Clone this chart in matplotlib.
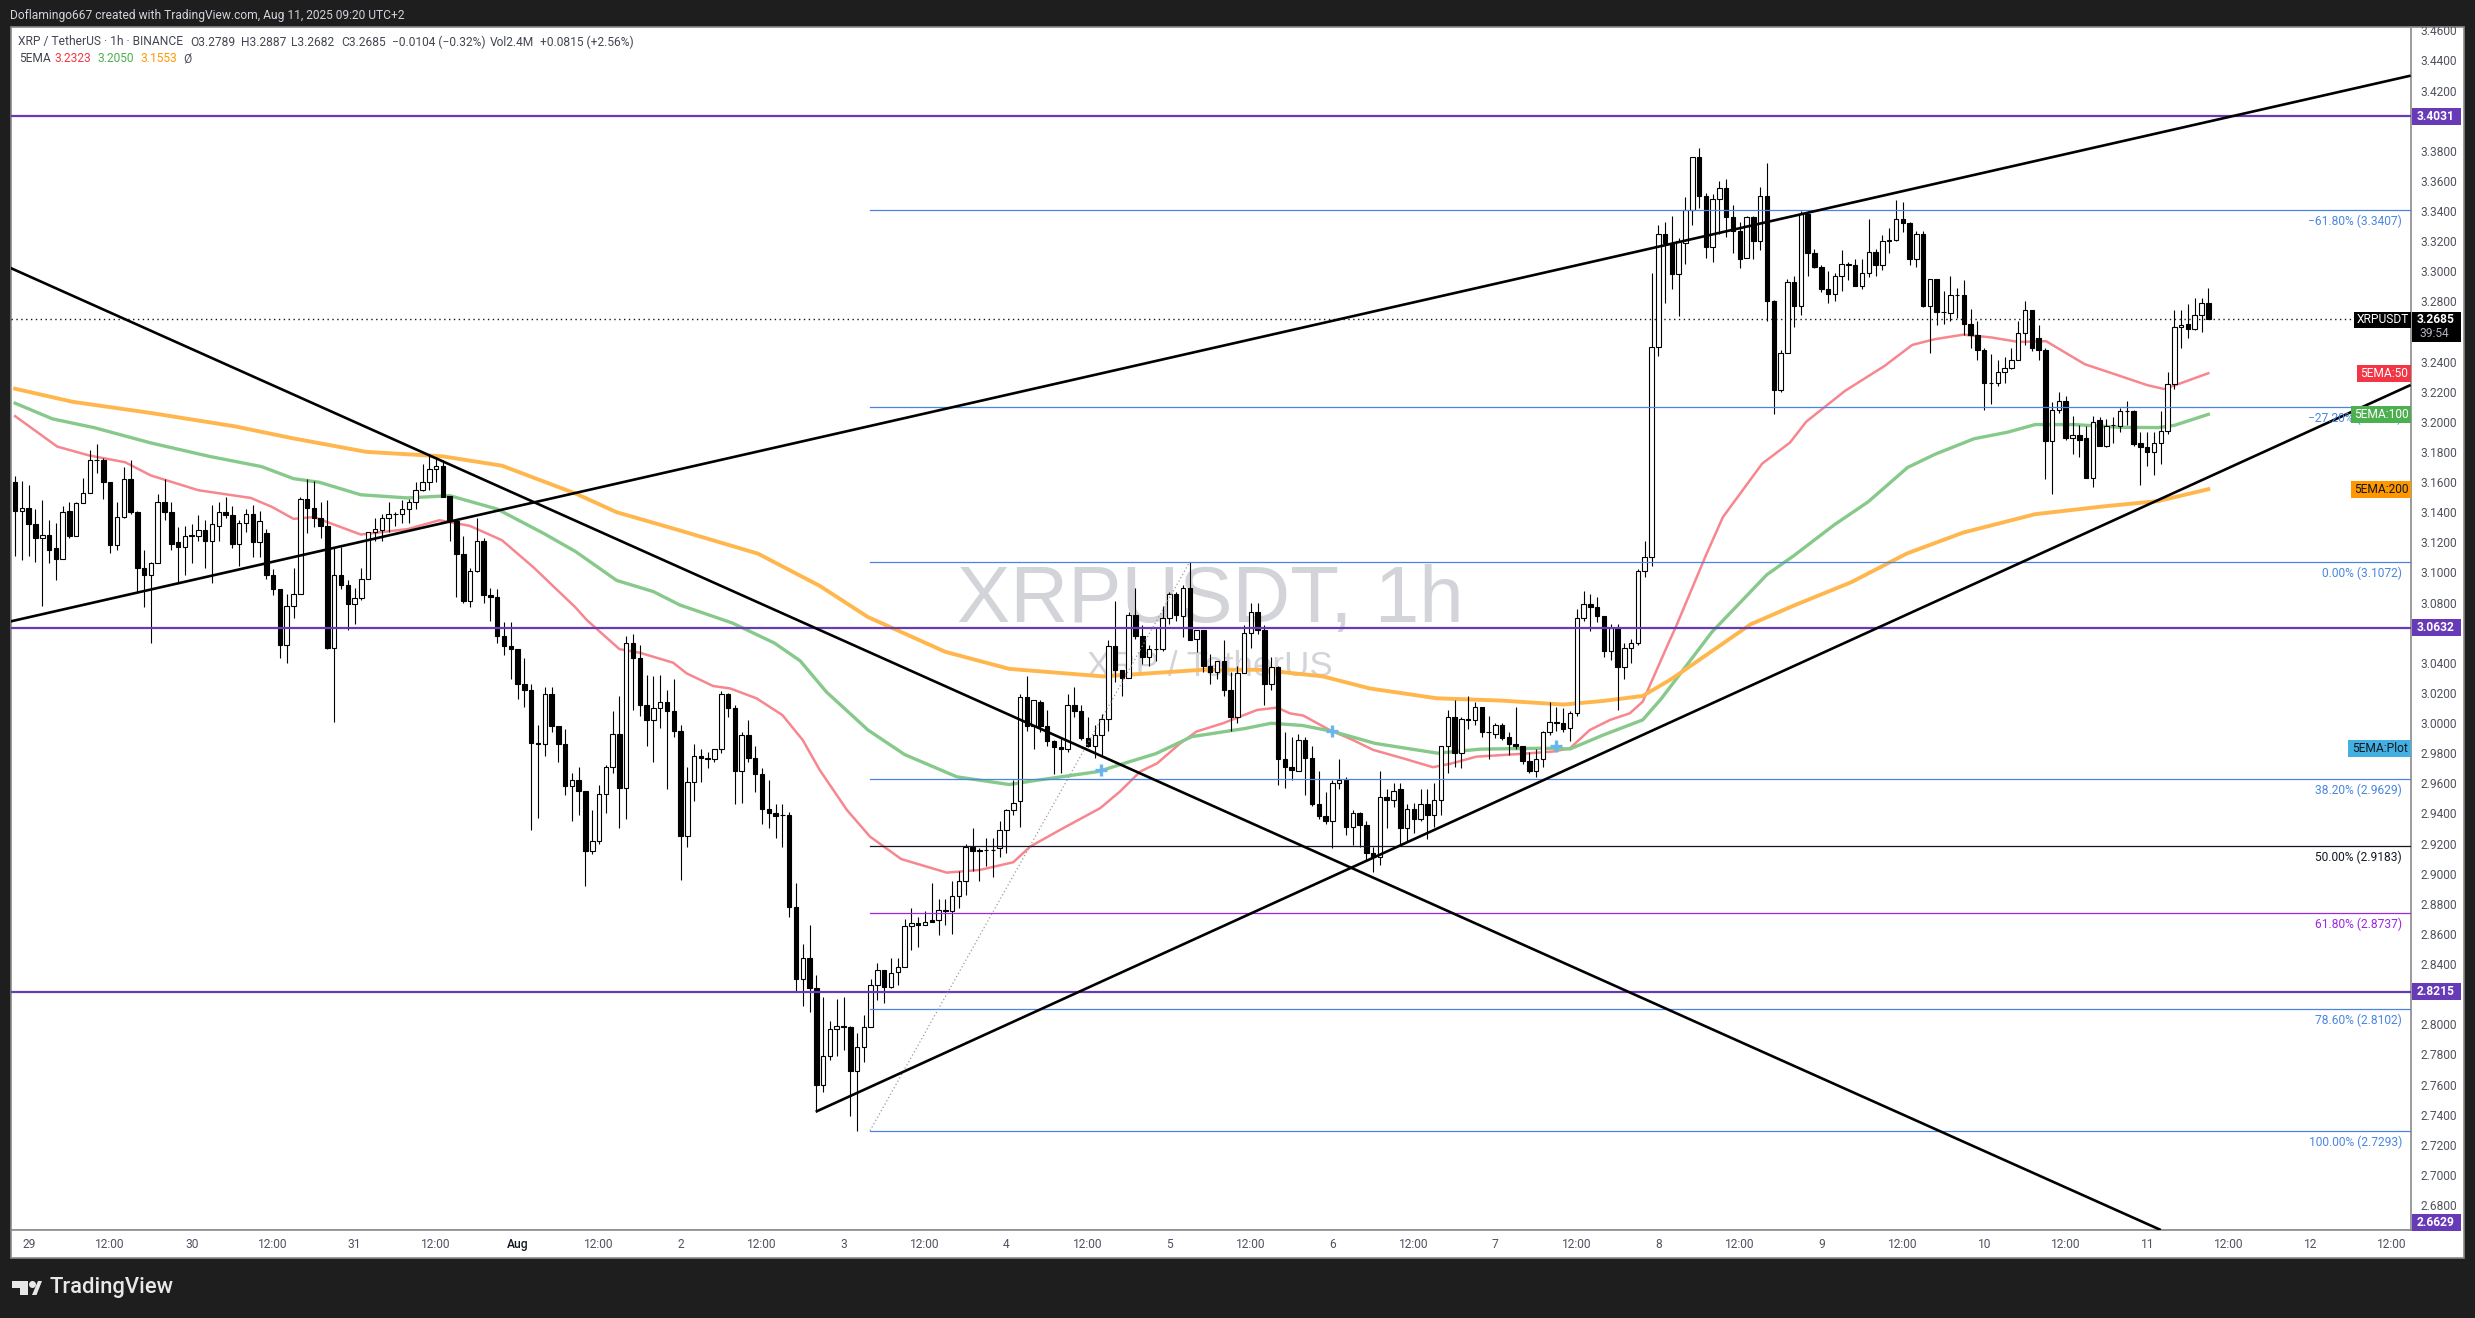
import numpy as np
import matplotlib
matplotlib.use('Agg')
import matplotlib.pyplot as plt
from matplotlib.patches import Rectangle, Circle, Polygon
from matplotlib.transforms import IdentityTransform, Bbox

W, H = 2475, 1318
UI_FONT = 'Roboto'
plt.rcParams['font.family'] = [UI_FONT, 'DejaVu Sans']

# hours counted from Jul 29 00:00
hours = list(range(-2, 322))

opens = [
    3.160,3.141,3.143,3.132,3.123,3.125,3.116,3.109,3.141,3.124,3.146,3.153,3.175,3.175,3.160,3.118,3.137,3.162,3.140,3.103,3.098,3.106,3.147,3.140,
    3.120,3.117,3.124,3.124,3.128,3.121,3.131,3.140,3.138,3.119,3.133,3.139,3.120,3.126,3.098,3.089,3.052,3.078,3.086,3.149,3.143,3.136,3.131,3.050,
    3.098,3.092,3.079,3.083,3.096,3.127,3.128,3.136,3.139,3.139,3.142,3.147,3.155,3.160,3.169,3.171,3.151,3.134,3.112,3.081,3.101,3.121,3.085,3.084,
    3.058,3.051,3.049,3.026,3.022,2.987,2.986,3.019,2.998,2.986,2.958,2.962,2.955,2.915,2.922,2.953,2.971,2.993,2.957,3.053,3.043,3.012,3.002,3.010,
    3.014,3.008,2.995,2.925,2.961,2.978,2.977,2.976,2.983,3.019,3.010,2.968,2.992,2.977,2.966,2.943,2.940,2.939,2.939,2.878,2.830,2.844,2.824,2.760,
    2.779,2.797,2.799,2.798,2.769,2.785,2.798,2.826,2.836,2.825,2.835,2.838,2.865,2.867,2.866,2.869,2.869,2.876,2.875,2.885,2.895,2.918,2.916,2.916,
    2.916,2.917,2.929,2.942,2.948,3.017,2.998,3.014,2.998,2.988,2.984,2.983,3.012,3.008,2.990,2.985,2.992,3.003,3.051,3.035,3.030,3.072,3.058,3.044,
    3.049,3.049,3.070,3.086,3.071,3.090,3.056,3.062,3.038,3.034,3.041,3.022,3.004,3.033,3.060,3.074,3.062,3.026,3.037,2.976,2.971,2.968,2.989,2.977,
    2.946,2.938,2.935,2.960,2.962,2.931,2.940,2.932,2.914,2.911,2.951,2.949,2.956,2.930,2.943,2.936,2.946,2.939,2.949,2.985,3.004,2.980,3.003,3.002,
    3.011,2.994,2.993,2.999,2.991,2.986,2.985,2.975,2.968,2.976,2.994,3.001,3.000,2.997,3.007,3.070,3.079,3.077,3.071,3.048,3.063,3.037,3.050,3.053,
    3.101,3.110,3.250,3.325,3.319,3.298,3.319,3.341,3.376,3.350,3.316,3.348,3.355,3.336,3.327,3.309,3.336,3.320,3.350,3.280,3.221,3.246,3.293,3.277,
    3.338,3.312,3.303,3.288,3.285,3.297,3.305,3.304,3.290,3.299,3.313,3.304,3.320,3.321,3.335,3.332,3.308,3.325,3.277,3.295,3.273,3.272,3.284,3.284,
    3.265,3.258,3.248,3.226,3.226,3.233,3.236,3.241,3.259,3.274,3.256,3.248,3.187,3.208,3.214,3.189,3.191,3.189,3.163,3.201,3.184,3.198,3.197,3.207,
    3.207,3.186,3.183,3.180,3.186,3.194,3.225,3.263,3.265,3.262,3.271,3.2789]
highs = [
    3.164,3.161,3.158,3.142,3.148,3.135,3.133,3.144,3.147,3.147,3.163,3.181,3.185,3.176,3.160,3.147,3.170,3.175,3.141,3.115,3.107,3.152,3.162,3.147,
    3.130,3.131,3.132,3.138,3.135,3.145,3.147,3.150,3.144,3.135,3.142,3.145,3.141,3.129,3.102,3.089,3.086,3.103,3.150,3.162,3.161,3.147,3.148,3.117,
    3.117,3.095,3.090,3.103,3.127,3.136,3.139,3.147,3.140,3.148,3.149,3.160,3.172,3.178,3.177,3.175,3.151,3.135,3.124,3.103,3.136,3.123,3.090,3.089,
    3.067,3.067,3.049,3.043,3.026,2.999,3.024,3.024,2.998,2.996,2.967,2.971,2.955,2.942,2.959,2.972,3.008,3.018,3.058,3.059,3.052,3.032,3.031,3.032,
    3.022,3.029,2.999,2.971,2.986,2.983,2.981,2.983,3.021,3.020,3.012,2.994,3.002,2.985,2.970,2.962,2.946,2.946,2.941,2.894,2.853,2.866,2.833,2.818,
    2.802,2.817,2.818,2.799,2.794,2.806,2.830,2.841,2.836,2.844,2.844,2.870,2.877,2.871,2.875,2.894,2.883,2.883,2.895,2.902,2.920,2.930,2.917,2.924,
    2.924,2.935,2.943,2.962,3.019,3.031,3.015,3.015,3.009,2.989,2.991,3.019,3.024,3.012,3.004,2.999,3.006,3.055,3.081,3.035,3.074,3.090,3.065,3.052,
    3.063,3.078,3.087,3.087,3.092,3.1072,3.062,3.062,3.046,3.041,3.055,3.034,3.038,3.065,3.080,3.080,3.065,3.044,3.038,2.994,2.991,2.993,2.991,2.985,
    2.968,2.954,2.962,2.976,2.964,2.942,2.941,2.935,2.918,2.968,2.956,2.960,2.960,2.946,2.947,2.956,2.956,2.960,2.985,3.009,3.015,3.004,3.018,3.014,
    3.011,3.005,3.000,3.000,2.994,3.011,2.985,2.981,2.983,2.995,3.014,3.011,3.010,3.008,3.076,3.088,3.086,3.084,3.071,3.066,3.066,3.053,3.056,3.102,
    3.121,3.299,3.331,3.333,3.337,3.322,3.349,3.376,3.382,3.352,3.351,3.360,3.361,3.344,3.333,3.337,3.337,3.356,3.372,3.281,3.248,3.295,3.297,3.340,
    3.340,3.315,3.304,3.300,3.299,3.314,3.306,3.308,3.308,3.335,3.315,3.324,3.329,3.347,3.346,3.333,3.327,3.327,3.295,3.295,3.287,3.297,3.289,3.294,
    3.275,3.267,3.249,3.245,3.241,3.243,3.249,3.267,3.280,3.274,3.264,3.249,3.213,3.220,3.217,3.204,3.198,3.197,3.204,3.203,3.202,3.203,3.209,3.214,
    3.208,3.193,3.193,3.193,3.207,3.233,3.274,3.274,3.278,3.282,3.282,3.2887]
lows = [
    3.111,3.108,3.111,3.107,3.078,3.106,3.095,3.109,3.123,3.124,3.146,3.153,3.166,3.149,3.113,3.115,3.136,3.139,3.087,3.077,3.053,3.106,3.135,3.115,
    3.093,3.098,3.106,3.121,3.103,3.093,3.121,3.136,3.116,3.104,3.127,3.110,3.110,3.096,3.085,3.043,3.040,3.070,3.086,3.126,3.130,3.123,3.049,3.001,
    3.089,3.062,3.066,3.082,3.096,3.121,3.121,3.127,3.131,3.133,3.133,3.142,3.154,3.155,3.160,3.150,3.121,3.084,3.080,3.077,3.100,3.080,3.068,3.053,
    3.045,3.029,3.016,3.011,2.929,2.937,2.978,2.994,2.974,2.952,2.935,2.939,2.892,2.913,2.920,2.940,2.967,2.930,2.936,3.009,3.005,2.985,2.974,2.997,
    2.956,2.991,2.896,2.918,2.948,2.961,2.970,2.974,2.980,3.004,2.946,2.947,2.974,2.954,2.933,2.930,2.924,2.918,2.871,2.822,2.812,2.808,2.742,2.755,
    2.776,2.779,2.783,2.739,2.7293,2.775,2.798,2.816,2.814,2.824,2.826,2.838,2.849,2.851,2.866,2.868,2.859,2.866,2.860,2.877,2.886,2.902,2.895,2.905,
    2.898,2.911,2.914,2.939,2.931,2.995,2.983,2.994,2.985,2.966,2.967,2.981,3.004,2.989,2.984,2.977,2.979,2.995,3.027,3.018,3.030,3.056,3.039,3.038,
    3.041,3.048,3.066,3.068,3.057,3.055,3.047,3.034,3.026,3.029,3.018,2.995,3.000,3.033,3.050,3.059,3.012,3.022,2.959,2.957,2.962,2.968,2.952,2.945,
    2.936,2.933,2.917,2.956,2.926,2.919,2.918,2.909,2.901,2.906,2.930,2.944,2.919,2.921,2.927,2.935,2.923,2.931,2.939,2.967,2.971,2.970,2.996,2.999,
    2.991,2.976,2.990,2.989,2.979,2.983,2.973,2.967,2.964,2.971,2.992,2.995,2.994,2.988,3.005,3.068,3.061,3.067,3.044,3.042,3.009,3.029,3.040,3.052,
    3.097,3.104,3.244,3.279,3.288,3.270,3.305,3.331,3.342,3.309,3.306,3.325,3.323,3.312,3.302,3.309,3.308,3.314,3.267,3.205,3.220,3.246,3.263,3.271,
    3.297,3.302,3.286,3.279,3.280,3.287,3.294,3.290,3.288,3.296,3.297,3.301,3.312,3.320,3.326,3.304,3.303,3.276,3.246,3.264,3.265,3.267,3.269,3.258,
    3.249,3.241,3.208,3.212,3.224,3.226,3.235,3.241,3.251,3.247,3.241,3.162,3.152,3.206,3.188,3.179,3.177,3.163,3.157,3.184,3.183,3.186,3.193,3.198,
    3.184,3.158,3.171,3.165,3.172,3.192,3.222,3.249,3.256,3.261,3.260,3.2682]
closes = [
    3.141,3.143,3.132,3.123,3.125,3.115,3.109,3.140,3.124,3.146,3.153,3.175,3.175,3.160,3.118,3.137,3.162,3.140,3.103,3.098,3.106,3.147,3.140,3.119,
    3.117,3.124,3.125,3.128,3.121,3.132,3.140,3.138,3.119,3.133,3.139,3.120,3.134,3.098,3.089,3.052,3.078,3.086,3.149,3.143,3.136,3.131,3.050,3.098,
    3.092,3.079,3.083,3.096,3.127,3.129,3.136,3.139,3.139,3.142,3.147,3.155,3.160,3.169,3.171,3.150,3.134,3.112,3.081,3.101,3.121,3.085,3.084,3.058,
    3.051,3.049,3.026,3.022,2.987,2.986,3.019,2.998,2.986,2.958,2.962,2.955,2.915,2.922,2.953,2.971,2.993,2.957,3.053,3.043,3.012,3.002,3.010,3.014,
    3.008,2.995,2.925,2.961,2.978,2.977,2.976,2.983,3.019,3.010,2.968,2.992,2.977,2.966,2.943,2.940,2.938,2.939,2.878,2.830,2.844,2.824,2.760,2.779,
    2.797,2.799,2.798,2.769,2.785,2.798,2.826,2.836,2.825,2.834,2.838,2.865,2.867,2.866,2.868,2.868,2.876,2.875,2.885,2.895,2.918,2.915,2.915,2.916,
    2.916,2.929,2.942,2.947,3.017,2.998,3.015,2.998,2.988,2.984,2.983,3.012,3.008,2.990,2.985,2.992,3.003,3.051,3.035,3.030,3.072,3.058,3.044,3.049,
    3.049,3.070,3.086,3.072,3.090,3.055,3.062,3.038,3.034,3.041,3.022,3.004,3.033,3.060,3.074,3.062,3.026,3.037,2.976,2.971,2.969,2.989,2.977,2.946,
    2.938,2.935,2.960,2.962,2.931,2.940,2.932,2.914,2.911,2.951,2.949,2.955,2.930,2.943,2.936,2.946,2.939,2.949,2.985,3.004,2.980,3.003,3.002,3.011,
    2.994,2.994,2.999,2.990,2.986,2.985,2.975,2.968,2.976,2.994,3.001,3.000,2.996,3.007,3.070,3.079,3.077,3.071,3.048,3.063,3.037,3.050,3.053,3.101,
    3.110,3.250,3.325,3.319,3.298,3.320,3.341,3.376,3.350,3.316,3.348,3.355,3.336,3.327,3.308,3.336,3.320,3.350,3.280,3.221,3.246,3.293,3.277,3.338,
    3.312,3.303,3.288,3.285,3.297,3.305,3.304,3.290,3.299,3.313,3.304,3.320,3.321,3.335,3.332,3.308,3.325,3.277,3.295,3.273,3.273,3.284,3.284,3.265,
    3.258,3.248,3.226,3.226,3.233,3.236,3.241,3.259,3.274,3.249,3.248,3.187,3.208,3.214,3.189,3.191,3.188,3.163,3.200,3.184,3.197,3.198,3.207,3.207,
    3.185,3.183,3.180,3.186,3.194,3.225,3.263,3.264,3.262,3.271,3.279,3.2685]

# moving averages at selected hours
ema50_h = [-2,4.2,8.9,14.2,18,25,32.7,35.8,39,42,48.9,55.8,60.5,65,69.7,74.3,80.5,82.2,87,90,94.9,96.9,100.8,103.3,107.2,111,114,116.5,120.5,123.9,128.5,135.2,140.1,145,147.5,151.9,154.8,157.8,160.7,163.7,166.2,169.6,172,175.9,180.9,183.9,185.7,187.7,191.6,195,198,202.4,206.8,209.3,213.2,219.6,224.5,227,229.9,232.9,235.8,237.7,241.7,242.5,247,249.5,255.3,259.4,261.8,267.5,273.3,277.4,280.7,284.9,289,293,297.1,302.8,307,312,314.5,316.9,321]
ema50 = [3.2038,3.1836,3.1777,3.1732,3.1644,3.1546,3.1495,3.1436,3.1356,3.1368,3.1252,3.1288,3.1347,3.1309,3.1214,3.1036,3.0769,3.0684,3.0491,3.0467,3.0401,3.0330,3.0246,3.0230,3.0164,3.0053,2.9887,2.9688,2.9423,2.9246,2.9097,2.9007,2.9025,2.9076,2.9180,2.9291,2.9362,2.9435,2.9545,2.9678,2.9733,2.9866,2.9944,2.9999,3.0087,3.0103,3.0065,3.0050,2.9954,2.9888,2.9822,2.9766,2.9707,2.9729,2.9777,2.9795,2.9811,2.9833,2.9954,3.0021,3.0065,3.0142,3.0552,3.0630,3.1113,3.1367,3.1723,3.1863,3.2002,3.2206,3.2371,3.2511,3.2549,3.2579,3.2561,3.2531,3.2536,3.2383,3.2320,3.2244,3.2218,3.2256,3.2323]
ema100_h = [-2,3.5,9.7,18,26.6,34.3,39,42.8,48.9,55.8,62,69,75.9,80.5,86.6,92,95.9,103.6,109.8,113.6,117.5,123.6,129,136.7,144.4,148.3,157.5,161.3,166,171.3,179,183,187.6,192,198.3,207.5,213.8,223,227,231.9,237.7,240.4,247.9,256,260,265.9,270.9,276.7,280.8,286.5,291.4,295.5,301.3,307.9,313.6,316,321]
ema100 = [3.2124,3.2020,3.1961,3.1860,3.1771,3.1703,3.1623,3.1599,3.1516,3.1495,3.1510,3.1421,3.1258,3.1140,3.0947,3.0873,3.0784,3.0665,3.0532,3.0414,3.0206,2.9954,2.9791,2.9643,2.9592,2.9619,2.9678,2.9732,2.9797,2.9910,2.9963,2.9999,2.9984,2.9945,2.9865,2.9800,2.9827,2.9833,2.9828,2.9921,3.0021,3.0160,3.0605,3.0986,3.1113,3.1316,3.1469,3.1697,3.1786,3.1888,3.1931,3.1982,3.1982,3.1964,3.1962,3.1977,3.2050]
ema200_h = [-2,6.5,18,30.4,39,49.7,61,69.7,80.5,86.6,95.9,107.4,116.5,123.6,135,144.4,158.2,172.9,181.4,190.6,197.5,207.3,217,226,231.9,237.7,241.7,243.8,253.6,260.1,268.4,276.6,284.9,295.5,305.4,313.6,321]
ema200 = [3.2220,3.2133,3.2059,3.1970,3.1890,3.1801,3.1771,3.1709,3.1525,3.1400,3.1279,3.1125,3.0911,3.0704,3.0473,3.0360,3.0310,3.0354,3.0354,3.0310,3.0230,3.0165,3.0149,3.0123,3.0147,3.0180,3.0286,3.0350,3.0656,3.0783,3.0935,3.1126,3.1265,3.1387,3.1438,3.1474,3.1553]
plus_h = [157.9, 192, 224.9]
plus_p = [2.9688, 2.9948, 2.9846]

# horizontal levels and fib retracement
level_prices = [3.4031, 3.0632, 2.8215, 2.6629]
fib_levels = [3.3407, 3.2100, 3.1072, 2.9629, 2.9183, 2.8737, 2.8102, 2.7293]
fib_names = ['-61.80%', '-27.20%', '0.00%', '38.20%', '50.00%', '61.80%', '78.60%', '100.00%']
fib_colors = ['#4a86e0', '#4a86e0', '#4a86e0', '#4a86e0', '#131722', '#9c27e0', '#4a86e0', '#4a86e0']

# drawn trend lines, (hour, price) ends
trend_up_h, trend_up_p = [-2.68, 350.8], [3.0675, 3.4299]
trend_down_h, trend_down_p = [-2.68, 314.0], [3.3022, 2.6634]
trend_low_h, trend_low_p = [115.9, 350.8], [2.7419, 3.2245]
fib_diag_h, fib_diag_p = [123.9, 171.0], [2.7293, 3.1072]

price_ticks = [2.68,2.70,2.72,2.74,2.76,2.78,2.80,2.84,2.86,2.88,2.90,2.92,2.94,2.96,2.98,3.00,3.02,3.04,3.08,3.10,3.12,
               3.14,3.16,3.18,3.20,3.22,3.24,3.28,3.30,3.32,3.34,3.36,3.38,3.42,3.44,3.46]
time_ticks = list(range(0, 349, 12))
time_labels = ['29','12:00','30','12:00','31','12:00','Aug','12:00','2','12:00','3','12:00','4','12:00','5','12:00',
               '6','12:00','7','12:00','8','12:00','9','12:00','10','12:00','11','12:00','12','12:00']

BG = '#1e1e1e'
PURPLE = '#673ab7'
AXIS_TXT = '#50535e'

fig = plt.figure(figsize=(W / 100, H / 100), dpi=100, facecolor=BG)


def px(size):
    # font size in pixels to points
    return size * 72 / 100


def label(x, y, s, **kw):
    kw.setdefault('va', 'center')
    kw.setdefault('fontsize', px(12))
    kw.setdefault('zorder', 12)
    return fig.text(x / W, 1 - y / H, s, **kw)


def box(x0, y0, x1, y1, **kw):
    kw.setdefault('linewidth', 0)
    kw.setdefault('zorder', 10)
    p = Rectangle((x0, H - y1), x1 - x0, y1 - y0, transform=IdentityTransform(), **kw)
    fig.add_artist(p)
    return p


box(11, 27, 2464, 1258, facecolor='white', edgecolor='#8a8a8a', linewidth=1.2, zorder=-1)

ax = fig.add_axes([11 / W, 1 - 1230 / H, 2400 / W, 1203 / H], zorder=1)
ax.set_xlim(-2.607, 350.85)
ax.set_ylim(2.6634, 3.4622)
ax.patch.set_alpha(0)
for side in ['top', 'left']:
    ax.spines[side].set_visible(False)
ax.spines['right'].set_color('#8a8a8a')
ax.spines['bottom'].set_color('#8a8a8a')
ax.spines['right'].set_linewidth(1.2)
ax.spines['bottom'].set_linewidth(1.2)

ax.yaxis.tick_right()
ax.set_yticks(price_ticks)
ax.set_yticklabels(['%.4f' % t for t in price_ticks])
ax.tick_params(axis='y', length=0, pad=7, labelsize=px(12), labelcolor=AXIS_TXT)
ax.set_xticks(time_ticks)
ax.set_xticklabels(time_labels)
ax.tick_params(axis='x', length=0, pad=6, labelsize=px(12), labelcolor=AXIS_TXT)
for t in ax.get_xticklabels():
    if t.get_text() == 'Aug':
        t.set_color('#131722')
        t.set_fontweight('medium')
clip = Bbox([[2412, H - 1258], [2464, H - 27]])
for t in ax.get_yticklabels():
    t.set_clip_on(True)
    t.set_clip_box(clip)

# watermark
label(1210, 601, 'XRPUSDT, 1h', ha='center', family='Liberation Sans', fontsize=px(80), color='#d3d4d9', zorder=0.5)
label(1210, 667, 'XRP / TetherUS', ha='center', family='Liberation Sans', fontsize=px(35), color='#d3d4d9', zorder=0.5)

ax.axhline(closes[-1], xmax=(2354 - 11) / 2400, color='#131722', linewidth=1, linestyle=(0, (1, 2.5)), zorder=2)

# moving averages sit under the candles
ax.plot(ema50_h, ema50, color='#f7868f', linewidth=1.8, zorder=3)
ax.plot(ema100_h, ema100, color='#86c98a', linewidth=2.4, zorder=3)
ax.plot(ema200_h, ema200, color='#ffb74d', linewidth=2.8, zorder=3)

o, c = np.array(opens), np.array(closes)
ups = c >= o
body_low = np.minimum(o, c)
body_h = np.abs(c - o)
ax.vlines(hours, lows, highs, color='black', linewidth=0.8, zorder=4)
ax.bar(hours, body_h, bottom=body_low, width=0.66, color=np.where(ups, 'white', 'black'),
       edgecolor='black', linewidth=0.8, zorder=5)

ax.plot(plus_h, plus_p, linestyle='none', marker='+', markersize=9, markeredgewidth=2.4, color='#6cb4ee', zorder=6)

for p in level_prices:
    ax.axhline(p, color=PURPLE, linewidth=1.6, zorder=6)

xf = (123.9 + 2.607) / (350.85 + 2.607)
for p, col in zip(fib_levels, fib_colors):
    ax.axhline(p, xmin=xf, color=col, linewidth=0.9, zorder=6)
ax.plot(fib_diag_h, fib_diag_p, color='#9a9a9a', linewidth=0.9, linestyle=(0, (1, 2)), zorder=6)

for th, tp in [(trend_up_h, trend_up_p), (trend_down_h, trend_down_p), (trend_low_h, trend_low_p)]:
    ax.plot(th, tp, color='black', linewidth=1.9, zorder=7, solid_capstyle='butt')

# fib level text, just under each line
for p, name, col in zip(fib_levels, fib_names, fib_colors):
    y = ax.transData.transform((0, p))[1]
    label(2402, H - y + 11.5, '%s (%.4f)' % (name.replace('-', '\u2212'), p), ha='right', color=col, zorder=8)


def price_tag(p, text, color, x0=2412, x1=2461, txt='white', dy=0, x_txt=2436, height=17, **kw):
    y = H - ax.transData.transform((0, p))[1] + dy
    box(x0, y - height / 2, x1, y + height / 2, facecolor=color, zorder=10)
    label(x_txt, y, text, ha='center', color=txt, zorder=12, **kw)


price_tag(3.4031, '3.4031', PURPLE, fontweight='bold')
price_tag(3.0632, '3.0632', PURPLE, fontweight='bold')
price_tag(2.8215, '2.8215', PURPLE, fontweight='bold')
price_tag(2.6629, '2.6629', PURPLE, dy=-8.5, fontweight='bold')

box(2412, 312, 2461, 342, facecolor='black')
label(2436, 319, '3.2685', ha='center', color='white', fontweight='bold')
label(2434, 333, '39:54', ha='center', color='#b2b5be')
box(2354, 312, 2411, 328, facecolor='black')
label(2382.5, 320, 'XRPUSDT', ha='center', color='white')

price_tag(3.2323, '5EMA:50', '#f23645', x0=2357, x1=2411, x_txt=2384)
price_tag(3.2050, '5EMA:100', '#4caf50', x0=2351, x1=2411, x_txt=2381)
price_tag(3.1553, '5EMA:200', '#ff9800', x0=2351, x1=2411, x_txt=2381, txt='#131722')
price_tag(2.9834, '5EMA:Plot', '#42b0e0', x0=2348, x1=2411, x_txt=2380, txt='#131722')

# header texts
label(10, 15, 'Doflamingo667 created with TradingView.com, Aug 11, 2025 09:20 UTC+2', color='#d1d4dc')
legend_items = [(18, 'XRP / TetherUS \u00b7 1h \u00b7 BINANCE', '#434651'), (190, 'O3.2789', '#434651'), (241, 'H3.2887', '#434651'),
                (291.5, 'L3.2682', '#434651'), (341.5, 'C3.2685', '#434651'), (391.5, '\u22120.0104 (\u22120.32%)', '#434651'),
                (490, 'Vol2.4M', '#434651'), (540, '+0.0815 (+2.56%)', '#434651')]
for x, s, col in legend_items:
    label(x, 42, s, color=col)
ema_items = [(19, '5EMA', '#434651'), (54.5, '3.2323', '#f23645'), (97, '3.2050', '#4caf50'), (140.6, '3.1553', '#ff9800'), (183.5, '\u00d8', '#50535e')]
for x, s, col in ema_items:
    label(x, 59, s, color=col)

# footer logo
logo = '#e8e8e8'
box(12, 1281, 28, 1288, facecolor=logo)
box(20, 1281, 28, 1295, facecolor=logo)
fig.add_artist(Circle((32.5, H - 1284.5), 3.5, transform=IdentityTransform(), facecolor=logo, linewidth=0, zorder=10))
fig.add_artist(Polygon([(32, H - 1295), (38, H - 1281), (42, H - 1281), (36.5, H - 1295)], transform=IdentityTransform(),
                       facecolor=logo, linewidth=0, zorder=10))
label(49, 1288, 'TradingView', color='#e8e8e8', fontsize=px(22), fontweight='medium')

fig.savefig('out.png', dpi=100, facecolor=BG)
